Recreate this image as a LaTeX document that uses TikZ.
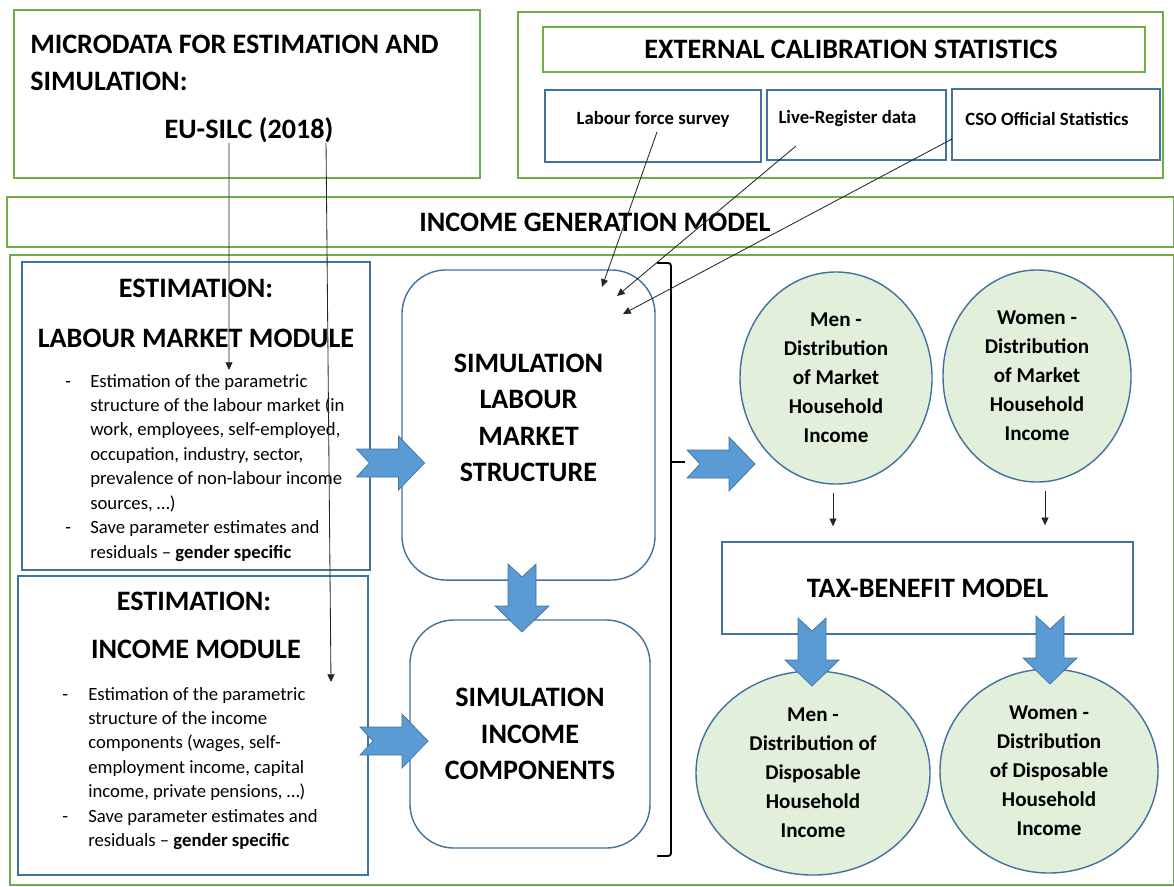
\documentclass[tikz,border=0pt]{standalone}
\usepackage{fontspec}
\setmainfont{Carlito}
\usetikzlibrary{shapes.geometric,arrows.meta}

\definecolor{frameGreen}{RGB}{112,173,71}
\definecolor{boxBlue}{RGB}{65,113,156}
\definecolor{arrowBlue}{RGB}{91,155,213}
\definecolor{bubbleGreen}{RGB}{226,239,218}

\newcommand{\headfont}{\fontsize{20}{26}\selectfont\bfseries}
\newcommand{\bubblefont}{\fontsize{15}{20.6}\selectfont\bfseries}
\newcommand{\listfont}{\fontsize{13.3}{17.4}\selectfont}
\newcommand{\srcfont}{\fontsize{13.3}{16}\selectfont\bfseries}

\tikzset{
  greenbox/.style={draw=frameGreen, line width=1.1pt, inner sep=0pt},
  bluebox/.style={draw=boxBlue, line width=1pt, inner sep=0pt},
  simbox/.style={bluebox, rounded corners=1.1cm, align=center, font=\headfont},
  bubble/.style={ellipse, draw=boxBlue, line width=1pt, fill=bubbleGreen, inner sep=0pt, align=center, font=\bubblefont},
  head/.style={font=\headfont, inner sep=0pt},
  thinarr/.style={-{Triangle[length=5.5pt,width=5pt]}, line width=0.6pt, black!85},
  blockarr/.pic={
    \filldraw[fill=arrowBlue, draw=boxBlue, line width=0.5pt]
      (-34,-14) -- (8,-14) -- (8,-27) -- (34,0) -- (8,27) -- (8,14) -- (-34,14) -- (-21,0) -- cycle;
  }
}

\begin{document}
\begin{tikzpicture}[x=0.025cm, y=-0.025cm]
\useasboundingbox (0,0) rectangle (1174,886);

% microdata
\node[greenbox, minimum width=11.65cm, minimum height=4.2cm] (micro) at (247,94) {};
\node[head, anchor=west, align=left] (microHead) at (30,63) {MICRODATA FOR ESTIMATION AND\\SIMULATION:};
\node[head] (silc) at (249,130) {EU-SILC (2018)};

% external calibration
\node[greenbox, minimum width=16.125cm, minimum height=4.15cm] (calib) at (840.5,95) {};
\node[greenbox, minimum width=15.05cm, minimum height=1.125cm] (calibHead) at (844,49.5) {};
\node[head] (calibT) at (851,49.5) {EXTERNAL CALIBRATION STATISTICS};
\node[bluebox, minimum width=5.4cm, minimum height=1.8cm] (lfs) at (653,126) {};
\node[bluebox, minimum width=4.475cm, minimum height=1.75cm] (lreg) at (856.5,125) {};
\node[bluebox, minimum width=5.2cm, minimum height=1.775cm] (cso) at (1056,124.5) {};
\node[font=\srcfont, inner sep=0pt] (lfsT) at (653,119) {Labour force survey};
\node[font=\srcfont, inner sep=0pt] (lregT) at (847.5,119) {Live-Register data};
\node[font=\srcfont, inner sep=0pt] (csoT) at (1047,119) {CSO Official Statistics};

% income generation model
\node[greenbox, minimum width=29.175cm, minimum height=1.25cm] (igm) at (590.5,222) {};
\node[head] (igmT) at (595,222) {INCOME GENERATION MODEL};
\node[greenbox, minimum width=29.1cm, minimum height=15.75cm] (frame) at (592,570) {};

% estimation modules
\node[bluebox, minimum width=8.7cm, minimum height=7.7cm] (estLab) at (196,416) {};
\node[head, anchor=base] (estLabA) at (196,297) {ESTIMATION:};
\node[head, anchor=base] (estLabB) at (196,347) {LABOUR MARKET MODULE};
\node[anchor=base west, inner sep=0pt, font=\listfont] (estLabList) at (65,387) {\begin{tabular}[t]{@{}p{0.625cm}@{}l@{}}
- & Estimation of the parametric\\
  & structure of the labour market (in\\
  & work, employees, self-employed,\\
  & occupation, industry, sector,\\
  & prevalence of non-labour income\\
  & sources, …)\\
- & Save parameter estimates and\\
  & residuals – \textbf{gender specific}
\end{tabular}};

\node[bluebox, minimum width=8.75cm, minimum height=7.475cm] (estInc) at (193,725.5) {};
\node[head, anchor=base] (estIncA) at (194,610) {ESTIMATION:};
\node[head, anchor=base] (estIncB) at (196,658) {INCOME MODULE};
\node[anchor=base west, inner sep=0pt, font=\listfont] (estIncList) at (62,700) {\begin{tabular}[t]{@{}p{0.65cm}@{}l@{}}
- & Estimation of the parametric\\
  & structure of the income\\
  & components (wages, self-\\
  & employment income, capital\\
  & income, private pensions, …)\\
- & Save parameter estimates and\\
  & residuals – \textbf{gender specific}
\end{tabular}};

% simulation
\node[simbox, minimum width=6.325cm, minimum height=7.75cm] (simLab) at (528.5,425) {};
\node[head, align=center] (simLabT) at (528.5,418) {SIMULATION\\LABOUR\\MARKET\\STRUCTURE};
\node[simbox, minimum width=6cm, minimum height=5.7cm] (simInc) at (530,734) {SIMULATION\\INCOME\\COMPONENTS};

% brace
\draw[line width=1.3pt, rounded corners=2pt] (657,263) -- (671,263) -- (671,856) -- (657,856);
\draw[line width=1.3pt] (671,462) -- (685,462);

% distributions
\node[bubble, minimum width=4.8cm, minimum height=5.3cm] (menM) at (836,378) {Men -\\Distribution\\of Market\\Household\\Income};
\node[bubble, minimum width=4.7cm, minimum height=5.3cm] (womenM) at (1037,376) {Women -\\Distribution\\of Market\\Household\\Income};
\node[bluebox, minimum width=10.275cm, minimum height=2.3cm, font=\headfont] (tax) at (927.5,588) {TAX-BENEFIT MODEL};
\node[bubble, minimum width=5.85cm, minimum height=5.1cm] (menD) at (813,773) {Men -\\Distribution of\\Disposable\\Household\\Income};
\node[bubble, minimum width=5.45cm, minimum height=5.1cm] (womenD) at (1049,771) {Women -\\Distribution\\of Disposable\\Household\\Income};

% block arrows
\pic at (390.5,463) {blockarr};
\pic at (394,741) {blockarr};
\pic at (721,464) {blockarr};
\pic[rotate=-90] at (522,598) {blockarr};
\pic[rotate=-90] at (812,652) {blockarr};
\pic[rotate=-90] at (1050,650) {blockarr};

% thin arrows
\coordinate (lmEnd) at (229,370);
\coordinate (incEnd) at (331,682);
\draw[thinarr] ([xshift=-0.5cm]silc.south) -- (lmEnd);
\draw[thinarr] ([xshift=1.925cm]silc.south) -- (incEnd);

\coordinate (lfsOut) at (657,132);
\coordinate (lregOut) at (796,146);
\coordinate (csoOut) at (952,139);
\coordinate (simIn1) at (602,287);
\coordinate (simIn2) at (617,296);
\coordinate (simIn3) at (623,314);
\draw[thinarr] (lfsOut) -- (simIn1);
\draw[thinarr] (lregOut) -- (simIn2);
\draw[thinarr] (csoOut) -- (simIn3);

\coordinate (menOut) at ([xshift=-0.075cm]menM.south);
\coordinate (womenOut) at ([xshift=0.2cm]womenM.south);
\draw[thinarr, shorten <=0.2cm, shorten >=0.375cm] (menOut) -- (menOut |- tax.north);
\draw[thinarr, shorten <=0.2cm, shorten >=0.4cm] (womenOut) -- (womenOut |- tax.north);
\end{tikzpicture}
\end{document}
